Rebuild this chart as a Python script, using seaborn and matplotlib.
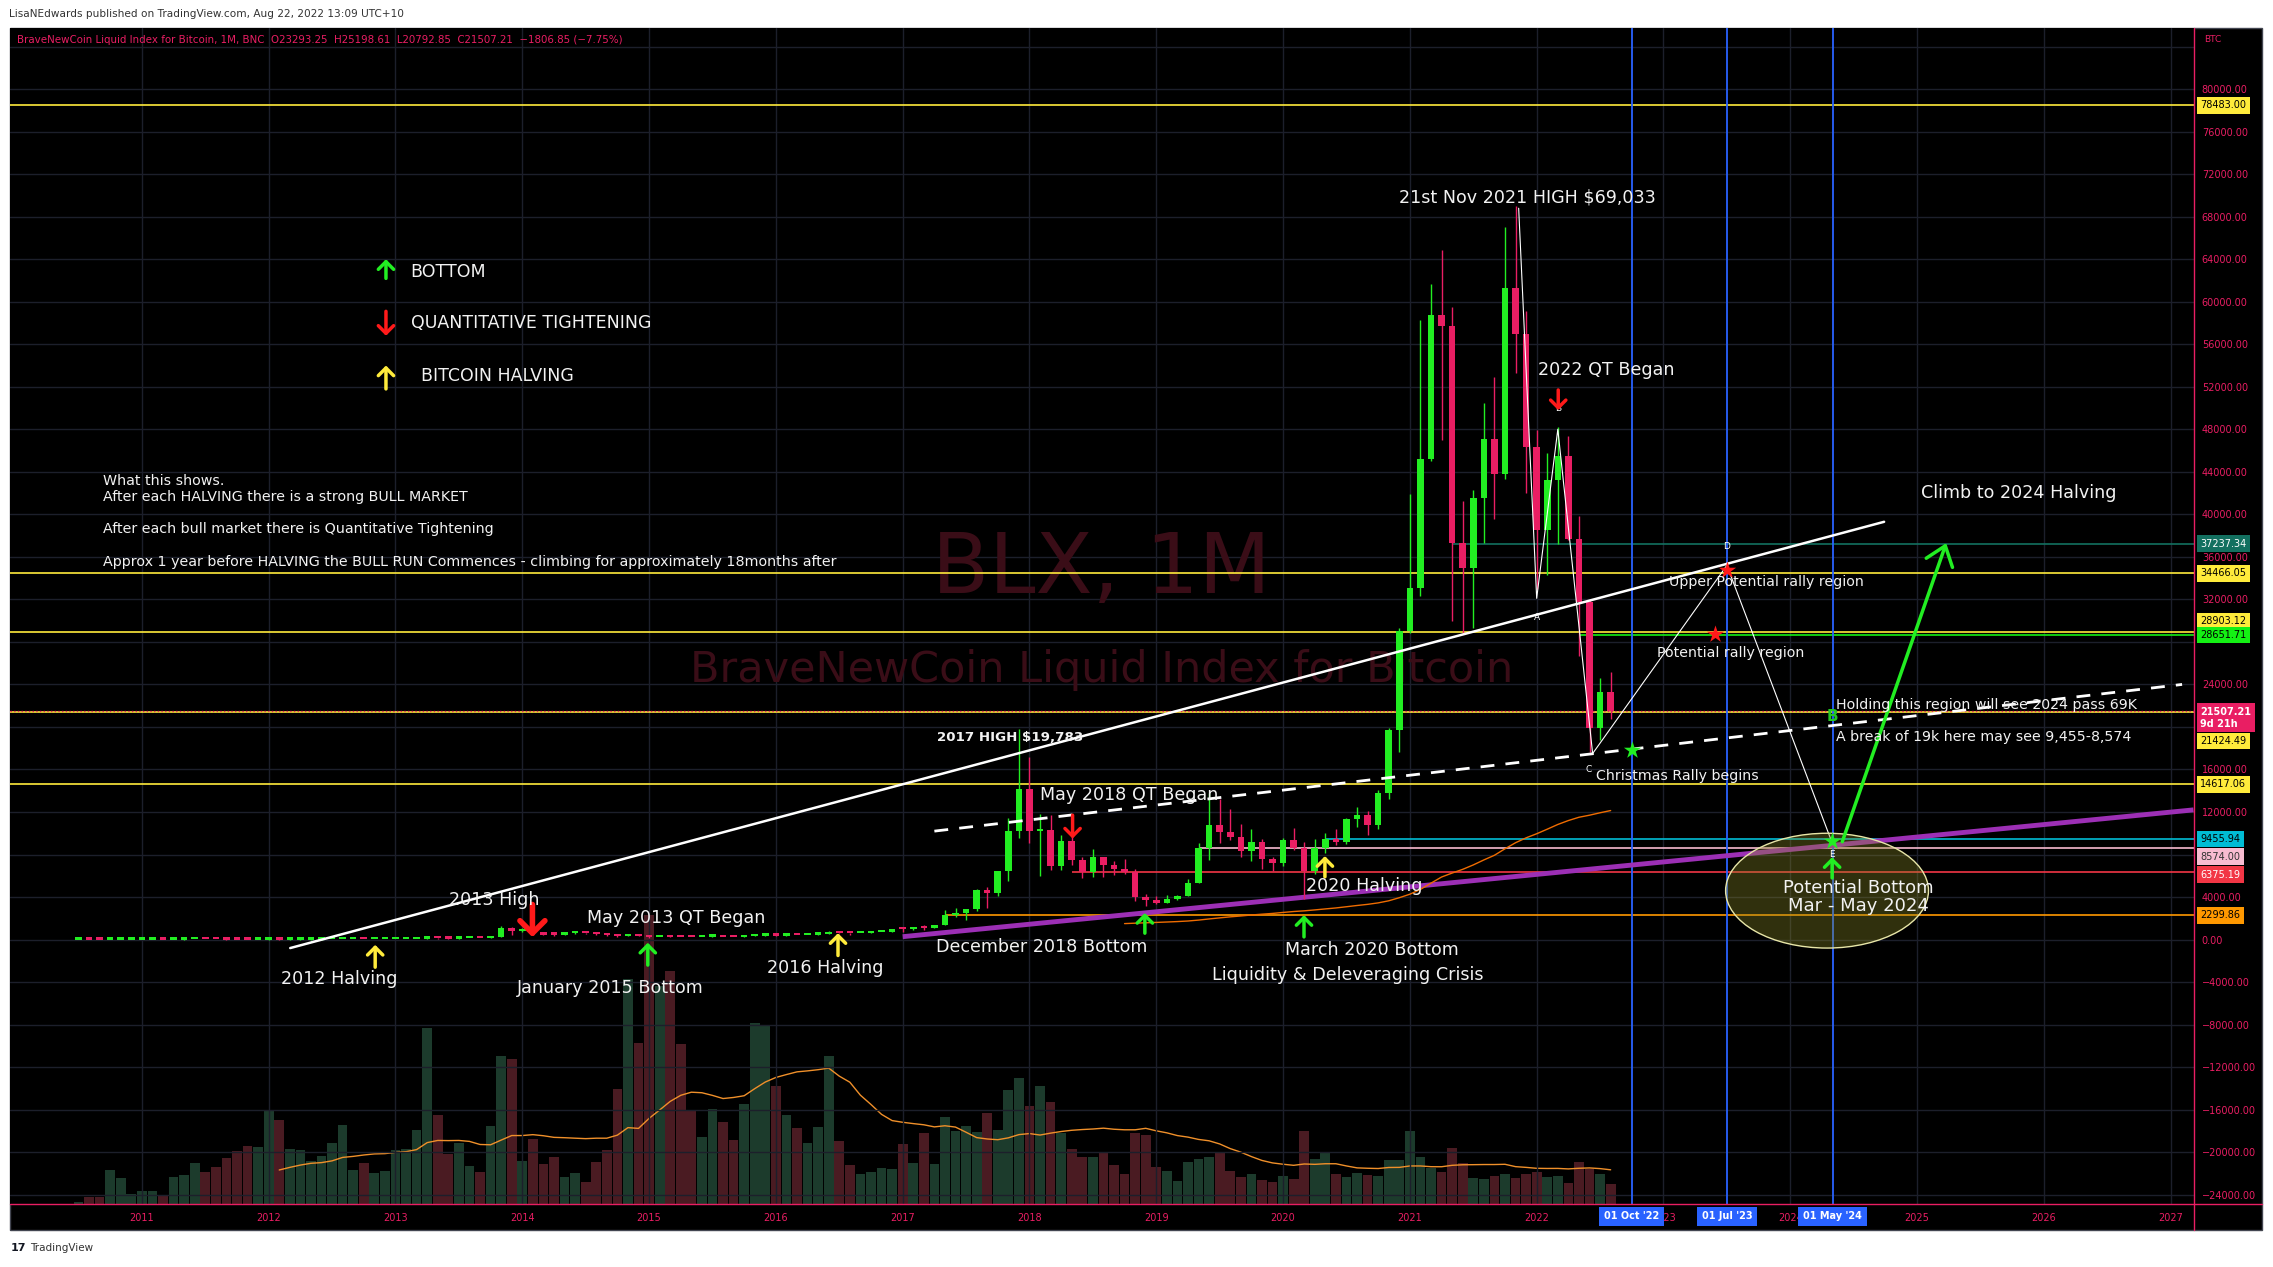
import numpy as np
import pandas as pd
import seaborn as sns
import matplotlib.pyplot as plt
import matplotlib.transforms as mtransforms
from matplotlib.patches import Ellipse, Rectangle
from matplotlib.lines import Line2D

# BLX monthly candles, Jul 2010 .. Aug 2022
close = [
    0.07, 0.065, 0.062, 0.19, 0.21, 0.30,
    0.52, 0.86, 0.78, 3.5, 8.7, 16.1, 13.4, 8.2, 5.1, 3.25, 2.97, 4.72,
    5.5, 4.9, 4.92, 5.0, 5.2, 6.7, 9.4, 10.2, 12.4, 11.2, 12.6, 13.5,
    20.4, 33.4, 93, 139, 129, 97, 106, 135, 133, 204, 1130, 805,
    838, 573, 457, 448, 628, 640, 587, 481, 387, 338, 378, 320,
    217, 254, 244, 236, 230, 263, 284, 230, 228, 314, 377, 430,
    368, 437, 416, 448, 531, 673, 624, 575, 608, 700, 742, 964,
    960, 1190, 1080, 1348, 2300, 2480, 2875, 4700, 4340, 6470, 10200, 14150,
    10220, 10330, 6930, 9240, 7490, 6390, 7730, 7030, 6630, 6310, 4020, 3740,
    3460, 3810, 4100, 5320, 8570, 10820, 10080, 9630, 8290, 9200, 7570, 7190,
    9350, 8600, 6420, 8630, 9460, 9140, 11350, 11680, 10780, 13800, 19700, 28990,
    33100, 45200, 58800, 57700, 37300, 35000, 41500, 47100, 43800, 61300, 57000, 46300,
    38500, 43200, 45500, 37700, 31800, 19900, 23293.25, 21507.21,
]
high = [
    0.09, 0.07, 0.07, 0.20, 0.50, 0.30,
    0.55, 1.10, 0.95, 3.9, 9.0, 31.9, 16.5, 13.5, 8.2, 5.3, 3.7, 4.8,
    7.4, 6.3, 5.6, 5.4, 5.4, 7.0, 9.7, 16.4, 13.0, 13.0, 12.9, 13.9,
    21, 34, 95, 266, 139, 129, 110, 136, 139, 217, 1240, 1160,
    1050, 877, 720, 550, 660, 690, 660, 600, 500, 415, 460, 390,
    320, 270, 300, 260, 248, 270, 317, 285, 245, 330, 500, 465,
    460, 445, 440, 465, 550, 780, 700, 620, 615, 730, 755, 975,
    1190, 1200, 1350, 1350, 2760, 2990, 2920, 4750, 4990, 6470, 11400, 19783,
    17200, 11800, 11700, 9800, 10000, 7800, 8500, 7800, 7400, 7600, 6600, 4300,
    4100, 4200, 4150, 5650, 9100, 13800, 13200, 12300, 10900, 10400, 9500, 7750,
    9600, 10500, 9200, 9500, 10070, 10400, 11450, 12470, 12050, 14100, 19900, 29300,
    41900, 58300, 61700, 64900, 59500, 41300, 42300, 50500, 52900, 67000, 69033, 59100,
    47900, 45800, 48200, 47400, 39800, 31900, 24600, 25198.61,
]
low = [
    0.05, 0.06, 0.06, 0.06, 0.19, 0.18,
    0.29, 0.50, 0.70, 0.75, 3.1, 7.0, 12.1, 6.8, 4.2, 2.2, 2.0, 2.8,
    4.7, 4.2, 4.3, 4.7, 4.8, 5.2, 6.4, 7.1, 9.8, 9.9, 10.4, 12.5,
    12.9, 19.7, 33, 50, 92, 88, 65, 105, 108, 102, 203, 400,
    750, 410, 400, 340, 430, 550, 550, 450, 370, 280, 315, 305,
    152, 210, 240, 215, 228, 210, 255, 196, 225, 235, 300, 350,
    350, 366, 400, 414, 440, 530, 615, 470, 580, 610, 690, 740,
    750, 920, 890, 1060, 1330, 2150, 1840, 2700, 2950, 4140, 5500, 9600,
    9100, 6000, 6500, 6500, 7000, 5800, 5850, 5900, 6100, 6200, 3600, 3200,
    3380, 3400, 3700, 4080, 5360, 7500, 9100, 9400, 7800, 7400, 6600, 6430,
    6900, 8450, 3850, 6150, 8100, 8900, 8950, 10550, 9850, 10400, 13200, 17600,
    28800, 32300, 45000, 47000, 30000, 28800, 29300, 37300, 39600, 43300, 53300, 42000,
    33000, 34300, 37200, 37600, 26700, 17600, 18800, 20792.85,
]
# volume in relative units (bar height)
volume = [
    2, 7, 7, 34, 26, 10,
    13, 13, 9, 27, 29, 41, 32, 37, 46, 53, 59, 57,
    95, 85, 55, 54, 43, 48, 62, 80, 34, 41, 31, 33,
    54, 55, 75, 179, 90, 50, 62, 38, 32, 79, 150, 147,
    43, 66, 40, 47, 27, 31, 22, 42, 54, 117, 228, 163,
    294, 221, 237, 162, 95, 68, 96, 83, 65, 101, 184, 182,
    120, 90, 77, 62, 78, 150, 64, 39, 30, 32, 36, 35,
    61, 41, 72, 40, 88, 74, 79, 73, 92, 75, 115, 128,
    99, 120, 103, 72, 55, 47, 47, 52, 39, 30, 72, 70,
    37, 33, 23, 42, 45, 47, 51, 33, 27, 30, 24, 22,
    28, 25, 74, 45, 51, 30, 27, 31, 29, 28, 44, 44,
    74, 47, 36, 32, 56, 41, 26, 25, 28, 30, 26, 30,
    32, 27, 28, 21, 42, 35, 30, 20,
]
first_open = 0.05

year_ticks = list(range(2011, 2028))
price_grid = list(range(-24000, 84001, 4000))
hidden_price_labels = [84000, 28000, 20000, 8000]

levels = [78483.00, 37237.34, 34466.05, 28903.12, 28651.71, 21424.49,
          14617.06, 9455.94, 8574.00, 6375.19, 2299.86]
level_from = [None, "2021-05-01", None, None, "2022-05-01", None,
              None, "2020-05-01", "2019-05-01", "2018-05-01", "2017-05-01"]
last_price = 21507.21
countdown = "9d 21h"

marker_dates = ["2022-10-01", "2023-07-01", "2024-05-01"]
marker_labels = ["01 Oct '22", "01 Jul '23", "01 May '24"]

# harmonic pattern X-A-B-C-D-E
pattern_dates = ["2021-11-10", "2022-01-01", "2022-03-01", "2022-06-10", "2023-07-01", "2024-05-01"]
pattern_values = [68800, 32100, 48000, 17500, 35200, 9000]


def yr(d):
    d = pd.Timestamp(d)
    return d.year + (d.month - 1) / 12 + (d.day - 1) / 365


# ---- styles ----
GREEN = "#22ee22"
RED = "#e91e63"
PINK_TXT = "#e91e63"
YELLOW = "#ffeb3b"
WHITE = "#f2f2f2"
level_style = {
    78483.00: (YELLOW, "black", 0), 37237.34: ("#137060", "white", 0),
    34466.05: (YELLOW, "black", 0), 28903.12: (YELLOW, "black", 8),
    28651.71: ("#14f014", "black", 0), 21424.49: (YELLOW, "black", -21),
    14617.06: (YELLOW, "black", 0), 9455.94: ("#00bcd4", "black", 0),
    8574.00: ("#f8bbd0", "#333333", -6), 6375.19: ("#f23645", "white", -2),
    2299.86: ("#ff9800", "black", 0),
}

sns.set_style("dark", {"axes.facecolor": "black", "figure.facecolor": "white"})
plt.rcParams["font.family"] = ["DejaVu Sans"]

W, H = 2273, 1267
fig = plt.figure(figsize=(W / 100, H / 100), dpi=100)
fig.patches.append(Rectangle((10 / W, 1 - 1230 / H), 2252 / W, (1230 - 27.5) / H,
                             transform=fig.transFigure, facecolor="black",
                             edgecolor="#434651", lw=1, zorder=-5))
ax = fig.add_axes([10 / W, 1 - 1203.5 / H, 2183.5 / W, 1176 / H])
ax_v = ax.twinx()
ax.set_zorder(ax_v.get_zorder() + 1)
ax.patch.set_visible(False)
ax_v.patch.set_visible(True)
ax_v.patch.set_facecolor("black")

df = pd.DataFrame({"close": close, "high": high, "low": low, "volume": volume})
dates = pd.date_range("2010-07-01", periods=len(df), freq="MS")
df["t"] = dates.year + (dates.month - 1) / 12
df["open"] = df["close"].shift(1).fillna(first_open)
up = df["close"] >= df["open"]

# volume panel
ax_v.bar(df["t"], df["volume"], width=0.92 / 12,
         color=np.where(up, "#1c3b2c", "#4a1b22"), linewidth=0)
sns.lineplot(x=df["t"], y=df["volume"].rolling(20).mean(), ax=ax_v,
             color="#f0902a", lw=1)
ax_v.set_ylim(0, max(volume) * 4.07)
ax_v.yaxis.set_visible(False)
for s in ax_v.spines.values():
    s.set_visible(False)

# grid
ax.set_xlim(2009.96, 2027.18)
ax.set_ylim(-24830, 85800)
ax.set_xticks(year_ticks)
ax.set_xticklabels([str(y) for y in year_ticks])
ax.set_yticks(price_grid)
ax.set_yticklabels(["" if v in hidden_price_labels else f"{v:.2f}".replace("-", "\u2212")
                    for v in price_grid])
ax.yaxis.tick_right()
ax.grid(True, color="#1c1f2b", lw=1)
ax.tick_params(axis="y", length=0, labelcolor=PINK_TXT, labelsize=7, pad=6)
ax.tick_params(axis="x", length=0, labelcolor=PINK_TXT, labelsize=7, pad=7)
for s in ax.spines.values():
    s.set_visible(False)

# watermark
ax.text(2018.57, 34800, "BLX, 1M", fontsize=60, color="#3a0d17", ha="center", va="center", zorder=0.6)
ax.text(2018.57, 25400, "BraveNewCoin Liquid Index for Bitcoin", fontsize=31,
        color="#3a0d17", ha="center", va="center", zorder=0.6)

# horizontal levels
x_right = ax.get_xlim()[1]
blend_y = mtransforms.blended_transform_factory(ax.transAxes, ax.transData)
for v, start in zip(levels, level_from):
    col, tcol, nudge = level_style[v]
    x0 = ax.get_xlim()[0] if start is None else yr(start)
    ax.hlines(v, x0, x_right, color=col, lw=1.2, zorder=2)
    ax.annotate(f"{v:.2f}", xy=(1.0, v), xycoords=blend_y, xytext=(5, nudge),
                textcoords="offset points", ha="left", va="center", fontsize=7,
                color=tcol, annotation_clip=False, zorder=20,
                bbox=dict(boxstyle="square,pad=0.35", fc=col, ec="none"))
ax.axhline(last_price, color=RED, lw=1, ls=":", zorder=2)
ax.annotate(f"{last_price:.2f}\n{countdown}", xy=(1.0, last_price), xycoords=blend_y,
            xytext=(5, -5), textcoords="offset points", ha="left", va="center",
            fontsize=7, color="white", fontweight="bold", linespacing=1.3,
            annotation_clip=False, zorder=21,
            bbox=dict(boxstyle="square,pad=0.35", fc=RED, ec="none"))

# vertical date markers
blend_x = mtransforms.blended_transform_factory(ax.transData, ax.transAxes)
for d, lab in zip(marker_dates, marker_labels):
    ax.axvline(yr(d), color="#2962ff", lw=1.3, zorder=2)
    ax.text(yr(d), -0.011, lab, transform=blend_x, ha="center", va="center",
            fontsize=7, fontweight="bold", color="white", zorder=25, clip_on=False,
            bbox=dict(boxstyle="square,pad=0.5", fc="#2962ff", ec="none"))

# long-term lines
ax.plot([2017.0, 2027.18], [270, 12200], color="#9c2fb5", lw=3.5, zorder=3, solid_capstyle="butt")
ax.plot([2012.17, 2024.74], [-800, 39300], color="white", lw=1.8, zorder=6)
ax.plot([2017.25, 2027.09], [10200, 24000], color="white", lw=2, ls=(0, (5, 4)), zorder=6)

# 100 month average
sns.lineplot(x=df["t"], y=df["close"].rolling(100).mean(), ax=ax, color="#ef6c00", lw=1, zorder=3)

# candles
cols = np.where(up, GREEN, RED)
ax.vlines(df["t"], df["low"], df["high"], color=cols, lw=1, zorder=4)
body_lo = np.minimum(df["open"], df["close"])
body_h = np.maximum((df["close"] - df["open"]).abs(), 220)
ax.bar(df["t"], body_h, bottom=body_lo, width=0.62 / 12, color=cols, linewidth=0, zorder=5)

# pattern and projection
ax.plot([yr(d) for d in pattern_dates], pattern_values, color="white", lw=0.8, zorder=7)
for lab, x, y in [("A", 2022.0, 30300), ("B", 2022.17, 50000), ("C", 2022.41, 16000),
                  ("D", 2023.5, 37000), ("E", 2024.33, 8000)]:
    ax.text(x, y, lab, color="white", fontsize=6.5, ha="center", va="center", zorder=9)
ax.add_patch(Ellipse((2024.29, 4600), 1.60, 10800, fc=(0.55, 0.55, 0.15, 0.35),
                     ec="#e8e6a8", lw=1, zorder=7))
ax.scatter([2023.5, 2023.41], [34800, 28700], marker="*", s=170, color="#ff1a1a", zorder=10, linewidths=0)
ax.scatter([2022.75, 2024.33], [17800, 9300], marker="*", s=170, color=GREEN, zorder=10, linewidths=0)
ax.text(2024.33, 21000, "B", color="#22c822", fontsize=11, fontweight="bold", ha="center", va="center", zorder=9)


def mark(x0, y0, x1, y1, color, lw=2.5, hw=0.55, hl=0.55):
    ax.annotate("", xy=(x1, y1), xytext=(x0, y0), zorder=11,
                arrowprops=dict(arrowstyle=f"->,head_length={hl},head_width={hw}",
                                color=color, lw=lw, shrinkA=0, shrinkB=0))


mark(2024.41, 9200, 2025.23, 37300, GREEN, lw=2.5, hw=1.0, hl=1.3)
for x, a, b in [(2014.99, -2400, -300), (2018.91, 600, 2500), (2020.165, 250, 2300), (2024.33, 5800, 7750)]:
    mark(x, a, x, b, GREEN)
for x, a, b in [(2012.84, -2600, -500), (2016.49, -1500, 600), (2020.33, 5900, 7850)]:
    mark(x, a, x, b, YELLOW)
mark(2014.08, 3300, 2014.08, 230, "#ff1a1a", lw=4, hw=0.9, hl=0.9)
mark(2018.34, 11700, 2018.34, 9500, "#ff1a1a")
mark(2022.17, 51700, 2022.17, 49800, "#ff1a1a")

# key
mark(2012.925, 62200, 2012.925, 64000, GREEN)
mark(2012.925, 59100, 2012.925, 56800, "#ff1a1a")
mark(2012.925, 51800, 2012.925, 54000, YELLOW)
for txt, x, y in [("BOTTOM", 2013.12, 62800), ("QUANTITATIVE TIGHTENING", 2013.12, 58000),
                  ("BITCOIN HALVING", 2013.20, 53000)]:
    ax.text(x, y, txt, color=WHITE, fontsize=12.5, ha="left", va="center", zorder=9)
for txt, y in [("What this shows.", 43100), ("After each HALVING there is a strong BULL MARKET", 41600),
               ("After each bull market there is Quantitative Tightening", 38600),
               ("Approx 1 year before HALVING the BULL RUN Commences - climbing for approximately 18months after", 35500)]:
    ax.text(2010.69, y, txt, color=WHITE, fontsize=10.3, ha="left", va="center", zorder=9)

big = 12.6
small = 10.2
notes = [
    ("21st Nov 2021 HIGH $69,033", 2021.93, 69800, big, "normal", "center"),
    ("2022 QT Began", 2022.55, 53600, big, "normal", "center"),
    ("Climb to 2024 Halving", 2025.80, 42000, big, "normal", "center"),
    ("Upper Potential rally region", 2023.81, 33600, small, "normal", "center"),
    ("Potential rally region", 2023.53, 27000, small, "normal", "center"),
    ("Holding this region will see 2024 pass 69K", 2024.36, 22100, small, "normal", "left"),
    ("A break of 19k here may see 9,455-8,574", 2024.36, 19100, small, "normal", "left"),
    ("Christmas Rally begins", 2022.47, 15400, small, "normal", "left"),
    ("2017 HIGH $19,783", 2017.85, 19000, 9.6, "bold", "center"),
    ("May 2018 QT Began", 2018.79, 13600, big, "normal", "center"),
    ("2020 Halving", 2020.64, 5000, big, "normal", "center"),
    ("December 2018 Bottom", 2018.10, -700, big, "normal", "center"),
    ("March 2020 Bottom", 2020.70, -950, big, "normal", "center"),
    ("Liquidity & Deleveraging Crisis", 2020.51, -3300, big, "normal", "center"),
    ("2016 Halving", 2016.39, -2700, big, "normal", "center"),
    ("January 2015 Bottom", 2014.69, -4600, big, "normal", "center"),
    ("May 2013 QT Began", 2015.21, 2000, big, "normal", "center"),
    ("2013 High", 2013.78, 3700, big, "normal", "center"),
    ("2012 Halving", 2012.56, -3700, big, "normal", "center"),
]
for txt, x, y, size, weight, ha in notes:
    ax.text(x, y, txt, color=WHITE, fontsize=size, fontweight=weight, ha=ha, va="center", zorder=12)
ax.text(2024.54, 4000, "Potential Bottom\nMar - May 2024", color=WHITE, fontsize=13,
        ha="center", va="center", linespacing=0.95, zorder=12)

ax.set_xlabel("")
ax.set_ylabel("")

# frame lines, header and footer
fig.add_artist(Line2D([2193.5 / W] * 2, [1 - 27.5 / H, 1 - 1230 / H], color=PINK_TXT, lw=1))
fig.add_artist(Line2D([10 / W, 2262 / W], [1 - 1203.5 / H] * 2, color=PINK_TXT, lw=1))
fig.text(9 / W, 1 - 14 / H, "LisaNEdwards published on TradingView.com, Aug 22, 2022 13:09 UTC+10",
         fontsize=7.6, color="#333333", va="center")
fig.text(17 / W, 1 - 40 / H,
         "BraveNewCoin Liquid Index for Bitcoin, 1M, BNC  O23293.25  H25198.61  L20792.85  C21507.21  \u22121806.85 (\u22127.75%)",
         fontsize=7.4, color=PINK_TXT, va="center")
fig.text(2204 / W, 1 - 40 / H, "BTC", fontsize=6.5, color=PINK_TXT, va="center")
fig.text(11 / W, 1 - 1248 / H, "17", fontsize=8, fontweight="bold", color="#131722", va="center")
fig.text(30 / W, 1 - 1248 / H, "TradingView", fontsize=7.5, color="#333333", va="center")

fig.savefig("out.png", dpi=100, facecolor="white")
